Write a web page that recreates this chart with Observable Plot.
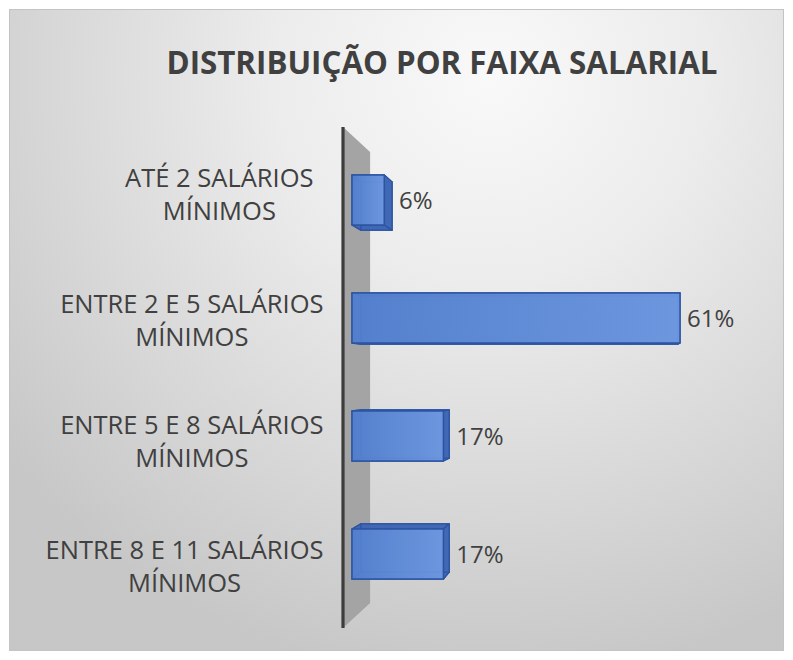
<!DOCTYPE html>
<html>
<head>
<meta charset="utf-8">
<script src="https://cdn.jsdelivr.net/npm/d3@7"></script>
<script src="https://cdn.jsdelivr.net/npm/@observablehq/plot@0.6"></script>
<style>
  body { margin: 0; background: #fff; }
  #wrap { position: relative; width: 793px; height: 660px; overflow: hidden; font-family: "Open Sans", sans-serif; }
  #panel { position: absolute; left: 9px; top: 9px; width: 773px; height: 640px; border: 1px solid #c4c4c4;
    background: radial-gradient(ellipse 80% 95% at 62% 10%, #f9f9f9 0%, #ececec 35%, #d8d8d8 70%, #c7c7c7 100%); }
  #title { position: absolute; left: 42px; width: 800px; top: 47px; text-align: center; font-size: 31.3px; line-height: 31px;
    font-weight: 700; color: #404040; white-space: nowrap; }
  #chart { position: absolute; left: 0; top: 0; }
  #chart svg { background: transparent; overflow: visible; }
</style>
</head>
<body>
<div id="wrap">
  <div id="panel"></div>
  <div id="title">DISTRIBUIÇÃO POR FAIXA SALARIAL</div>
  <div id="chart"></div>
</div>
<script>
// ---- data ----
const categories = [
  "ATÉ 2 SALÁRIOS\nMÍNIMOS",
  "ENTRE 2 E 5 SALÁRIOS\nMÍNIMOS",
  "ENTRE 5 E 8 SALÁRIOS\nMÍNIMOS",
  "ENTRE 8 E 11 SALÁRIOS\nMÍNIMOS"
];
const values = [6, 61, 17, 17];

const rows = categories.map((c, i) => ({cat: c, value: values[i]}));

// ---- styling / projection params ----
const INSET = 34;            // bar inset inside its band
const TEXT = "#404040";
const K_BAR = 0.966;         // depth scale for bars
const K_WALL = 0.90;         // depth scale for the axis wall
const LABEL_GAP = [39, 29, 29, 29];   // gap between label block and bar start
const LABEL_SHIFT = [-8, 0, 3, 10];   // perspective shift of label blocks

function vanishing(scales) {
  const x0 = scales.x(0);
  const ys = categories.map(c => scales.y(c));
  const bw = scales.y.bandwidth ? scales.y.bandwidth() : 118;
  const vy = (Math.min(...ys) + Math.max(...ys) + bw) / 2;
  return {vx: x0 + 262, vy, bw};
}

function wall(index, scales, values, dimensions) {
  const {vx, vy, bw} = vanishing(scales);
  const x0 = scales.x(0);
  const ys = categories.map(c => scales.y(c));
  const fx = x0 - 9;
  const top = Math.min(...ys) - 14;
  const bot = Math.max(...ys) + bw + 15;
  const back = (x, y) => [vx + (x - vx) * K_WALL, vy + (y - vy) * K_WALL];
  const b1 = back(fx, top), b2 = back(fx, bot);
  const g = d3.create("svg:g");
  g.append("polygon")
    .attr("points", [[fx, top], b1, b2, [fx, bot]].map(p => p.join(",")).join(" "))
    .attr("fill", "#a4a4a4");
  g.append("line")
    .attr("x1", fx).attr("x2", fx).attr("y1", top).attr("y2", bot)
    .attr("stroke", "#3d3d3d").attr("stroke-width", 3.2);
  return g.node();
}

function box3d(index, scales, values, dimensions) {
  const {vx, vy, bw} = vanishing(scales);
  const g = d3.create("svg:g");
  const defs = g.append("defs");
  const grad = defs.append("linearGradient").attr("id", "frontGrad").attr("x1", 0).attr("x2", 1).attr("y1", 0).attr("y2", 0);
  grad.append("stop").attr("offset", "0%").attr("stop-color", "#5581cf");
  grad.append("stop").attr("offset", "100%").attr("stop-color", "#719ce4");
  const back = p => [vx + (p[0] - vx) * K_BAR, vy + (p[1] - vy) * K_BAR];
  const pts = a => a.map(p => p.join(",")).join(" ");
  for (const i of index) {
    const x1 = values.x1[i], x2 = values.x2[i];
    const yb = values.y ? values.y[i] : scales.y(rows[i].cat);
    const y1 = yb + INSET, y2 = yb + bw - INSET;
    const F = [[x1, y1], [x2, y1], [x2, y2], [x1, y2]];
    const B = F.map(back);
    const sideStyle = sel => sel.attr("fill", "#3f67b4").attr("fill-opacity", 0.92)
      .attr("stroke", "#2d54a2").attr("stroke-width", 1.3).attr("stroke-linejoin", "round");
    sideStyle(g.append("polygon").attr("points", pts(B)));
    for (let s = 0; s < 4; s++) {
      const a = s, b = (s + 1) % 4;
      sideStyle(g.append("polygon").attr("points", pts([F[a], F[b], B[b], B[a]])));
    }
    g.append("polygon").attr("points", pts(F))
      .attr("fill", "url(#frontGrad)").attr("fill-opacity", 0.88)
      .attr("stroke", "#2d54a2").attr("stroke-width", 1.5).attr("stroke-linejoin", "round");
    const right = Math.max(x2, B[1][0]);
    g.append("text")
      .attr("x", right + 7).attr("y", (y1 + y2) / 2)
      .attr("dy", "0.36em")
      .attr("text-anchor", "start")
      .attr("fill", TEXT)
      .attr("font-family", "'Open Sans', sans-serif")
      .attr("font-size", 24)
      .text(rows[i].value + "%");
  }
  return g.node();
}

// measure category label widths to center each wrapped label block
const ctx = document.createElement("canvas").getContext("2d");
ctx.font = "25.5px 'Open Sans'";
const blockWidth = c => Math.max(...c.split("\n").map(l => ctx.measureText(l).width));

const labelMarks = rows.map((r, i) => Plot.text([r], {
  x: () => 0,
  y: "cat",
  text: "cat",
  textAnchor: "middle",
  lineAnchor: "middle",
  lineHeight: 1.3,
  dx: -LABEL_GAP[i] - blockWidth(r.cat) / 2,
  dy: LABEL_SHIFT[i],
  fill: TEXT,
  fontSize: 25.5,
  fontFamily: "'Open Sans', sans-serif"
}));

const chart = Plot.plot({
  width: 793,
  height: 660,
  style: {background: "transparent", overflow: "visible"},
  x: {domain: [0, 61], range: [352, 680], axis: null},
  y: {domain: categories, range: [141, 613], padding: 0, axis: null},
  marks: [
    Plot.ruleX([0], {render: wall}),
    Plot.barX(rows, {x: "value", y: "cat", fill: "#5b88d8", insetTop: INSET, insetBottom: INSET, render: box3d}),
    ...labelMarks
  ]
});
document.getElementById("chart").appendChild(chart);
</script>
</body>
</html>
